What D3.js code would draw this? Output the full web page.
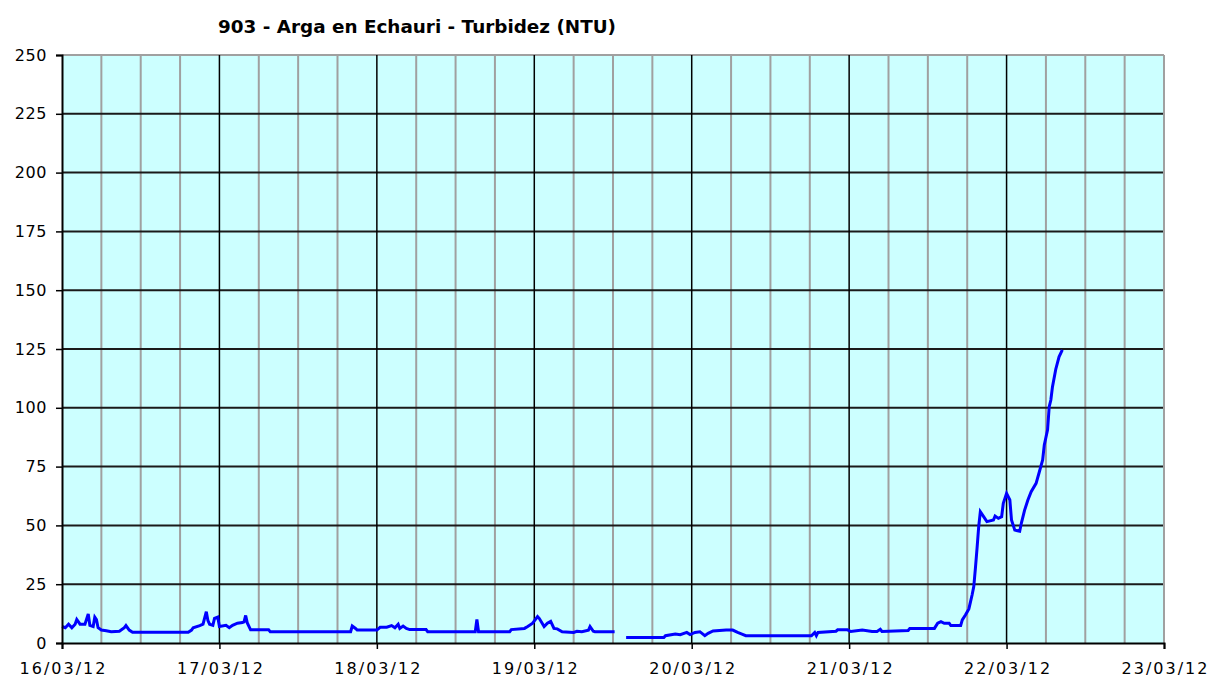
<!DOCTYPE html>
<html>
<head>
<meta charset="utf-8">
<script src="https://cdn.jsdelivr.net/npm/d3@7"></script>
<style>
  body { margin: 0; background: #fff; }
  svg { display: block; }
  text { font-family: "DejaVu Sans", Verdana, sans-serif; fill: #000; }
</style>
</head>
<body>
<div id="chart"></div>
<script>
// readings, 16/03 to 22/03 2012 (null = gap in the record)
const times = [
  "2012-03-16 00:00","2012-03-16 00:30","2012-03-16 01:00","2012-03-16 01:30","2012-03-16 02:00",
  "2012-03-16 02:15","2012-03-16 02:45","2012-03-16 03:30","2012-03-16 04:00","2012-03-16 04:15",
  "2012-03-16 04:45","2012-03-16 05:00","2012-03-16 05:15","2012-03-16 05:30","2012-03-16 06:00",
  "2012-03-16 06:45","2012-03-16 07:30","2012-03-16 08:45","2012-03-16 09:30","2012-03-16 09:45",
  "2012-03-16 10:15","2012-03-16 10:45","2012-03-16 19:15","2012-03-16 19:45","2012-03-16 20:00",
  "2012-03-16 21:00","2012-03-16 21:30","2012-03-16 22:00","2012-03-16 22:15","2012-03-16 22:30",
  "2012-03-16 23:00","2012-03-16 23:15","2012-03-16 23:45","2012-03-17 00:00","2012-03-17 01:00",
  "2012-03-17 01:30","2012-03-17 02:00","2012-03-17 02:45","2012-03-17 03:30","2012-03-17 03:45",
  "2012-03-17 04:00","2012-03-17 04:15","2012-03-17 04:45","2012-03-17 07:30","2012-03-17 07:45",
  "2012-03-17 20:00","2012-03-17 20:15","2012-03-17 20:45","2012-03-17 21:00","2012-03-18 00:00",
  "2012-03-18 00:30","2012-03-18 01:30","2012-03-18 02:15","2012-03-18 02:45","2012-03-18 03:15",
  "2012-03-18 03:30","2012-03-18 04:00","2012-03-18 04:30","2012-03-18 05:00","2012-03-18 07:30",
  "2012-03-18 07:45","2012-03-18 15:00","2012-03-18 15:15","2012-03-18 15:30","2012-03-18 20:15",
  "2012-03-18 20:30","2012-03-18 22:30","2012-03-18 23:00","2012-03-18 23:45","2012-03-19 00:30",
  "2012-03-19 00:45","2012-03-19 01:30","2012-03-19 02:00","2012-03-19 02:30","2012-03-19 03:00",
  "2012-03-19 03:30","2012-03-19 04:15","2012-03-19 06:00","2012-03-19 06:30","2012-03-19 07:15",
  "2012-03-19 08:15","2012-03-19 08:30","2012-03-19 09:00","2012-03-19 09:15","2012-03-19 12:15",
  "2012-03-19 13:00",
  "2012-03-19 14:00","2012-03-19 19:45","2012-03-19 20:00","2012-03-19 21:30","2012-03-19 22:15",
  "2012-03-19 23:15","2012-03-19 23:45","2012-03-20 00:30","2012-03-20 01:15","2012-03-20 02:00",
  "2012-03-20 02:30","2012-03-20 03:15","2012-03-20 05:15","2012-03-20 06:15","2012-03-20 07:00",
  "2012-03-20 07:45","2012-03-20 08:15","2012-03-20 18:15","2012-03-20 18:45","2012-03-20 19:00",
  "2012-03-20 19:15","2012-03-20 22:00","2012-03-20 22:15","2012-03-20 23:45","2012-03-21 00:15",
  "2012-03-21 02:00","2012-03-21 03:30","2012-03-21 04:15","2012-03-21 04:45","2012-03-21 05:00",
  "2012-03-21 09:00","2012-03-21 09:15","2012-03-21 13:00","2012-03-21 13:30","2012-03-21 14:00",
  "2012-03-21 14:30","2012-03-21 15:15","2012-03-21 15:30","2012-03-21 17:00","2012-03-21 17:15",
  "2012-03-21 17:45","2012-03-21 18:15","2012-03-21 18:30","2012-03-21 18:45","2012-03-21 19:00",
  "2012-03-21 19:15","2012-03-21 19:30","2012-03-21 19:45","2012-03-21 20:00","2012-03-21 20:30",
  "2012-03-21 21:00","2012-03-21 22:00","2012-03-21 22:15","2012-03-21 22:45","2012-03-21 23:15",
  "2012-03-21 23:30","2012-03-22 00:00","2012-03-22 00:30","2012-03-22 00:45","2012-03-22 01:15",
  "2012-03-22 02:00","2012-03-22 02:15","2012-03-22 02:45","2012-03-22 03:15","2012-03-22 03:45",
  "2012-03-22 04:30","2012-03-22 05:00","2012-03-22 05:30","2012-03-22 05:45","2012-03-22 06:15",
  "2012-03-22 06:30","2012-03-22 06:45","2012-03-22 07:00","2012-03-22 07:30","2012-03-22 08:00",
  "2012-03-22 08:30"
];
const turbidity = [
  7, 6.5, 8, 6.5, 8,
  10, 8, 8, 12.3, 7.5,
  7, 11, 10, 6.5, 5.5,
  5.2, 4.8, 5, 6.5, 7.4,
  5.5, 4.6, 4.6, 5.5, 6.5,
  7.4, 8, 13.3, 9.5, 8,
  7.5, 10.5, 11, 7, 7.5,
  6.5, 7.5, 8.4, 8.7, 9,
  11.7, 8.5, 5.6, 5.6, 4.8,
  4.8, 7.2, 6.2, 5.5, 5.5,
  6.7, 6.7, 7.4, 6.5, 8,
  6.2, 7.2, 6.2, 5.7, 5.7,
  4.8, 4.8, 10, 4.8, 4.8,
  5.7, 6.2, 7, 8.4, 11.2,
  10.5, 7, 8.4, 9.2, 6.2,
  6, 4.8, 4.5, 5, 4.8,
  5.4, 7, 5, 4.8, 4.8,
  null,
  2.3, 2.3, 3.1, 3.8, 3.5,
  4.5, 3.6, 4.5, 4.8, 3.1,
  4.1, 5.1, 5.5, 5.5, 4.5,
  3.7, 3.1, 3.1, 4.5, 3.1,
  4.5, 5, 5.6, 5.6, 4.9,
  5.5, 4.9, 4.9, 5.8, 4.9,
  5.3, 6.2, 6.2, 8.4, 9.1,
  8.4, 8.4, 7.4, 7.4, 9.8,
  12, 14.5, 17.5, 20.5, 24,
  31.8, 40.3, 49.5, 55.8, 53.7,
  51.6, 52.3, 54, 53, 53.7,
  59.4, 63.6, 60.8, 52.3, 48,
  47.5, 50.9, 56.5, 60.8, 64.3,
  67.9, 72.8, 77.8, 84.2, 90.6,
  100.5, 103.3, 109, 116.4, 121.7,
  124.6
];
const yTicks = [0, 25, 50, 75, 100, 125, 150, 175, 200, 225, 250];
const dayLabels = ["16/03/12","17/03/12","18/03/12","19/03/12","20/03/12","21/03/12","22/03/12","23/03/12"];
const title = "903 - Arga en Echauri - Turbidez (NTU)";

const width = 1209, height = 677;
const plotLeft = 62, plotRight = 1164, plotTop = 55, plotBottom = 643;

const parse = d3.timeParse("%Y-%m-%d %H:%M");
const days = dayLabels.map(d3.timeParse("%d/%m/%y"));
const data = times.map((t, i) => ({ t: parse(t), v: turbidity[i] }));

const x = d3.scaleTime().domain([days[0], days[days.length - 1]]).range([plotLeft, plotRight]);
const y = d3.scaleLinear().domain([0, 250]).range([plotBottom, plotTop]);

const svg = d3.select("#chart").append("svg")
    .attr("width", width).attr("height", height);

svg.append("rect")
    .attr("x", plotLeft).attr("y", plotTop)
    .attr("width", plotRight - plotLeft).attr("height", plotBottom - plotTop)
    .attr("fill", "#ccffff");

// 6-hour grid lines
const sixHours = d3.timeHour.every(6).range(days[0], days[days.length - 1]).filter(d => d.getHours() !== 0);
svg.append("g").selectAll("line")
    .data(sixHours)
    .enter().append("line")
    .attr("x1", d => x(d)).attr("x2", d => x(d))
    .attr("y1", plotTop).attr("y2", plotBottom)
    .attr("stroke", "#a0a0a0").attr("stroke-width", 2);

// horizontal grid
svg.append("g").selectAll("line")
    .data(yTicks.slice(1))
    .enter().append("line")
    .attr("x1", plotLeft).attr("x2", plotRight)
    .attr("y1", d => y(d)).attr("y2", d => y(d))
    .attr("stroke", d => d === 250 ? "#a0a0a0" : "#1a1a1a")
    .attr("stroke-width", 2);

// day lines
svg.append("g").selectAll("line")
    .data(days.slice(1))
    .enter().append("line")
    .attr("x1", d => x(d)).attr("x2", d => x(d))
    .attr("y1", plotTop).attr("y2", plotBottom)
    .attr("stroke", (d, i) => i === days.length - 2 ? "#a0a0a0" : "#000")
    .attr("stroke-width", (d, i) => i === days.length - 2 ? 2 : 1.5);

const line = d3.line()
    .defined(d => d.v !== null)
    .x(d => x(d.t))
    .y(d => y(d.v));

svg.append("path")
    .datum(data)
    .attr("d", line)
    .attr("fill", "none")
    .attr("stroke", "#0000ff")
    .attr("stroke-width", 3)
    .attr("stroke-linejoin", "miter");

// axes
const yAxis = svg.append("g")
    .attr("transform", "translate(" + plotLeft + ",0)")
    .call(d3.axisLeft(y).tickValues(yTicks).tickSize(6).tickPadding(9));
const xAxis = svg.append("g")
    .attr("transform", "translate(0," + plotBottom + ")")
    .call(d3.axisBottom(x).tickValues(days).tickSize(6).tickPadding(14)
      .tickFormat((d, i) => dayLabels[i]));

[yAxis, xAxis].forEach(g => {
  g.select(".domain").attr("stroke", "#000").attr("stroke-width", 2);
  g.selectAll(".tick line").attr("stroke", "#000").attr("stroke-width", 1.5);
  g.selectAll("text")
      .style("font-family", "'DejaVu Sans', Verdana, sans-serif")
      .style("font-size", "16px")
      .attr("fill", "#000");
});
yAxis.selectAll("text").style("letter-spacing", "0.6px");
xAxis.selectAll("text").attr("textLength", 86).attr("lengthAdjust", "spacing");

svg.append("text")
    .attr("x", 417).attr("y", 33)
    .attr("text-anchor", "middle")
    .attr("textLength", 398).attr("lengthAdjust", "spacingAndGlyphs")
    .style("font-size", "18px")
    .style("font-weight", "bold")
    .text(title);
</script>
</body>
</html>
